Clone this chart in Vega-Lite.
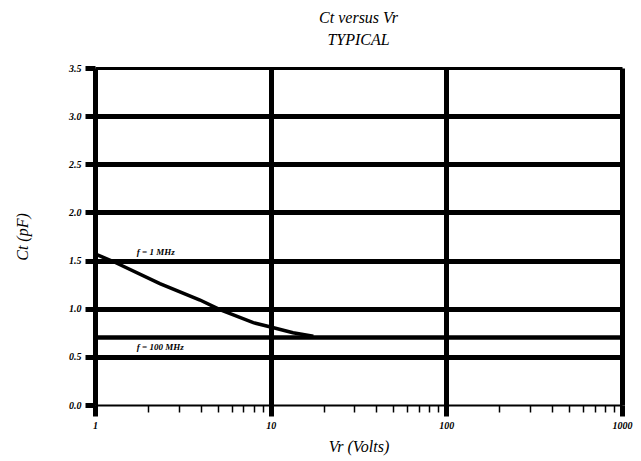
{
  "$schema": "https://vega.github.io/schema/vega-lite/v6.json",
  "autosize": "none",
  "width": 527,
  "height": 337,
  "padding": {"left": 95, "top": 68, "right": 19, "bottom": 56},
  "background": "white",
  "config": {"view": {"stroke": null}},
  "title": {
    "text": ["Ct versus Vr", "TYPICAL"],
    "font": "Liberation Serif",
    "fontStyle": "italic",
    "fontWeight": "normal",
    "fontSize": 16,
    "lineHeight": 22,
    "color": "black",
    "anchor": "middle",
    "offset": 15
  },
  "datasets": {
    "curves": [
      {"series": "1 MHz", "vr": 1, "ct": 1.57},
      {"series": "1 MHz", "vr": 1.27, "ct": 1.49},
      {"series": "1 MHz", "vr": 2.34, "ct": 1.26},
      {"series": "1 MHz", "vr": 3.96, "ct": 1.09},
      {"series": "1 MHz", "vr": 5.14, "ct": 0.99},
      {"series": "1 MHz", "vr": 7.96, "ct": 0.855},
      {"series": "1 MHz", "vr": 10, "ct": 0.81},
      {"series": "1 MHz", "vr": 13.4, "ct": 0.75},
      {"series": "1 MHz", "vr": 17.5, "ct": 0.715},
      {"series": "100 MHz", "vr": 1, "ct": 0.7},
      {"series": "100 MHz", "vr": 1000, "ct": 0.7}
    ],
    "labels": [
      {"text": "f = 1 MHz", "vr": 1.73, "ct": 1.56},
      {"text": "f = 100 MHz", "vr": 1.73, "ct": 0.575}
    ]
  },
  "layer": [
    {
      "data": {"name": "curves"},
      "mark": {"type": "line", "color": "black", "strokeCap": "butt"},
      "encoding": {
        "x": {
          "field": "vr",
          "type": "quantitative",
          "scale": {"type": "log", "domain": [1, 1000], "nice": false},
          "axis": {
            "title": "Vr (Volts)",
            "titleFont": "Liberation Serif",
            "titleFontStyle": "italic",
            "titleFontWeight": "normal",
            "titleFontSize": 16,
            "titleColor": "black",
            "titlePadding": 8,
            "values": [1, 2, 3, 4, 5, 6, 7, 8, 9, 10, 20, 30, 40, 50, 60, 70, 80, 90, 100, 200, 300, 400, 500, 600, 700, 800, 900, 1000],
            "labelExpr": "indexof([1, 10, 100, 1000], datum.value) >= 0 ? format(datum.value, 'd') : ''",
            "labelFont": "Liberation Serif",
            "labelFontStyle": "italic",
            "labelFontWeight": "bold",
            "labelFontSize": 10,
            "labelColor": "black",
            "labelPadding": 4,
            "labelFlush": false,
            "labelOverlap": false,
            "domain": false,
            "grid": true,
            "gridColor": "black",
            "gridWidth": {"condition": {"test": "indexof([1, 10, 100, 1000], datum.value) >= 0", "value": 5}, "value": 0},
            "ticks": true,
            "tickColor": "black",
            "tickSize": {"condition": {"test": "indexof([1, 10, 100, 1000], datum.value) >= 0", "value": 11}, "value": 7},
            "tickWidth": {"condition": {"test": "indexof([1, 10, 100, 1000], datum.value) >= 0", "value": 5}, "value": 1.5}
          }
        },
        "y": {
          "field": "ct",
          "type": "quantitative",
          "scale": {"domain": [0, 3.5], "nice": false},
          "axis": {
            "title": "Ct (pF)",
            "titleFont": "Liberation Serif",
            "titleFontStyle": "italic",
            "titleFontWeight": "normal",
            "titleFontSize": 16,
            "titleColor": "black",
            "titlePadding": 38,
            "values": [0, 0.25, 0.5, 0.75, 1, 1.25, 1.5, 1.75, 2, 2.25, 2.5, 2.75, 3, 3.25, 3.5],
            "labelExpr": "datum.value % 0.5 == 0 ? format(datum.value, '.1f') : ''",
            "labelFont": "Liberation Serif",
            "labelFontStyle": "italic",
            "labelFontWeight": "bold",
            "labelFontSize": 10,
            "labelColor": "black",
            "labelPadding": 4,
            "labelFlush": false,
            "labelOverlap": false,
            "domain": false,
            "grid": true,
            "gridColor": "black",
            "gridWidth": {
              "condition": [
                {"test": "datum.value == 0", "value": 2},
                {"test": "datum.value == 3.5", "value": 3},
                {"test": "datum.value % 0.5 == 0", "value": 5}
              ],
              "value": 0
            },
            "ticks": true,
            "tickColor": "black",
            "tickSize": {"condition": {"test": "datum.value % 0.5 == 0", "value": 10}, "value": 5},
            "tickWidth": {"condition": {"test": "datum.value % 0.5 == 0", "value": 5}, "value": 1.5}
          }
        },
        "detail": {"field": "series"},
        "strokeWidth": {
          "field": "series",
          "type": "nominal",
          "scale": {"domain": ["1 MHz", "100 MHz"], "range": [3.5, 4.5]},
          "legend": null
        }
      }
    },
    {
      "data": {"name": "labels"},
      "mark": {
        "type": "text",
        "align": "left",
        "baseline": "alphabetic",
        "font": "Liberation Serif",
        "fontStyle": "italic",
        "fontWeight": "bold",
        "fontSize": 9,
        "color": "black"
      },
      "encoding": {
        "x": {"field": "vr", "type": "quantitative"},
        "y": {"field": "ct", "type": "quantitative"},
        "text": {"field": "text"}
      }
    }
  ]
}
